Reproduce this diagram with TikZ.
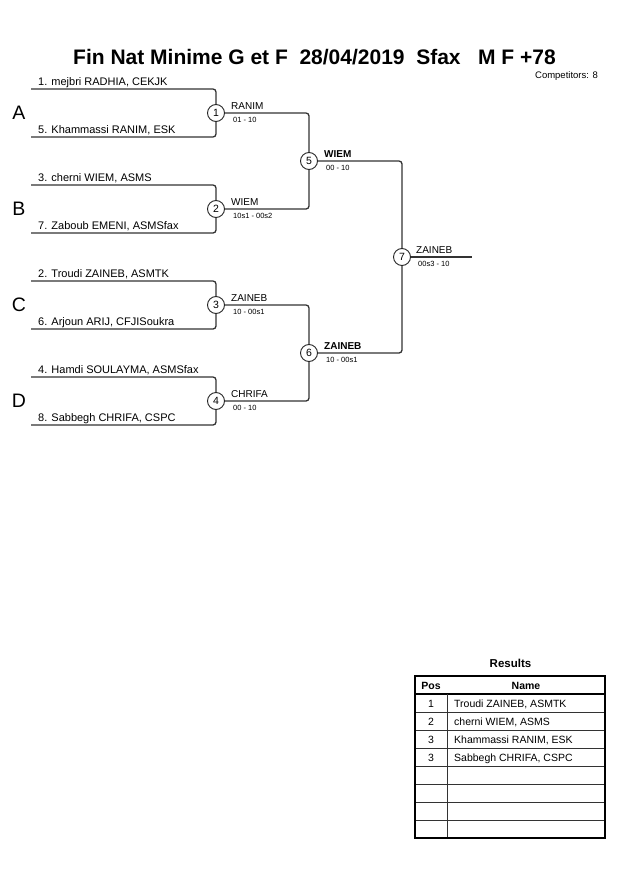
\documentclass[tikz,border=0pt]{standalone}
\usepackage{fontspec}
\setmainfont{Liberation Sans}
\begin{document}
\begin{tikzpicture}[x=1pt,y=-1pt,
  br/.style={line width=1.3pt,draw=black!80,rounded corners=3pt},
  mc/.style={circle,draw=black!85,line width=0.9pt,fill=white,minimum size=17pt,inner sep=0pt,font=\fontsize{10.5}{12}\selectfont},
  nm/.style={anchor=base west,inner sep=0pt,font=\fontsize{11}{13}\selectfont},
  wn/.style={anchor=base west,inner sep=0pt,font=\fontsize{10}{12}\selectfont},
  sc/.style={anchor=base west,inner sep=0pt,font=\fontsize{7.5}{9}\selectfont},
  grp/.style={anchor=center,inner sep=0pt,font=\fontsize{19.5}{22}\selectfont},
  cell/.style={inner sep=0pt,font=\fontsize{10.5}{12}\selectfont},
  hcell/.style={inner sep=0pt,anchor=base,font=\bfseries\fontsize{10.5}{12}\selectfont}]
\useasboundingbox (0,0) rectangle (630,891);
% title
\node[anchor=base,inner sep=0pt,font=\bfseries\fontsize{21}{24}\selectfont] (title) at (314.5,64) {Fin Nat Minime G et F\ \ 28/04/2019\ \ Sfax\ \ \ M F +78};
\node[anchor=base east,inner sep=0pt,font=\fontsize{9.5}{11}\selectfont] (comp) at (598,78.5) {Competitors: 8};
% match circles
\node[mc] (m1) at (216,113) {1};
\node[mc] (m2) at (216,209) {2};
\node[mc] (m3) at (216,305) {3};
\node[mc] (m4) at (216,401) {4};
\node[mc] (m5) at (309,161) {5};
\node[mc] (m6) at (309,353) {6};
\node[mc] (m7) at (402,257) {7};
% line start coordinates
\coordinate (s1) at (31,89);  \coordinate (s5) at (31,137);
\coordinate (s3) at (31,185); \coordinate (s7) at (31,233);
\coordinate (s2) at (31,281); \coordinate (s6) at (31,329);
\coordinate (s4) at (31,377); \coordinate (s8) at (31,425);
\coordinate (fin) at (472,257);
% first round brackets
\draw[br] (s1) -| (m1.north); \draw[br] (s5) -| (m1.south);
\draw[br] (s3) -| (m2.north); \draw[br] (s7) -| (m2.south);
\draw[br] (s2) -| (m3.north); \draw[br] (s6) -| (m3.south);
\draw[br] (s4) -| (m4.north); \draw[br] (s8) -| (m4.south);
% second round
\draw[br] (m1.east) -| (m5.north); \draw[br] (m2.east) -| (m5.south);
\draw[br] (m3.east) -| (m6.north); \draw[br] (m4.east) -| (m6.south);
% final
\draw[br] (m5.east) -| (m7.north); \draw[br] (m6.east) -| (m7.south);
\draw[br] (m7.east) -- (fin);
% competitor names
\node[nm] (n1) at (38,85.5) {1. mejbri RADHIA, CEKJK};
\node[nm] (n5) at (38,133.5) {5. Khammassi RANIM, ESK};
\node[nm] (n3) at (38,181.5) {3. cherni WIEM, ASMS};
\node[nm] (n7) at (38,229.5) {7. Zaboub EMENI, ASMSfax};
\node[nm] (n2) at (38,277.5) {2. Troudi ZAINEB, ASMTK};
\node[nm] (n6) at (38,325.5) {6. Arjoun ARIJ, CFJISoukra};
\node[nm] (n4) at (38,373.5) {4. Hamdi SOULAYMA, ASMSfax};
\node[nm] (n8) at (38,421.5) {8. Sabbegh CHRIFA, CSPC};
% group letters
\node[grp] (gA) at (19,113) {A};
\node[grp] (gB) at (19,209) {B};
\node[grp] (gC) at (19,305) {C};
\node[grp] (gD) at (19,401) {D};
% winners and scores
\node[wn] (w1) at (231,109) {RANIM};   \node[sc] (r1) at (233,122) {01 - 10};
\node[wn] (w2) at (231,205) {WIEM};    \node[sc] (r2) at (233,218) {10s1 - 00s2};
\node[wn] (w3) at (231,301) {ZAINEB};  \node[sc] (r3) at (233,314) {10 - 00s1};
\node[wn] (w4) at (231,397) {CHRIFA};  \node[sc] (r4) at (233,410) {00 - 10};
\node[wn,font=\bfseries\fontsize{10}{12}\selectfont] (w5) at (324,157) {WIEM};   \node[sc] (r5) at (326,170) {00 - 10};
\node[wn,font=\bfseries\fontsize{10}{12}\selectfont] (w6) at (324,349) {ZAINEB}; \node[sc] (r6) at (326,362) {10 - 00s1};
\node[wn] (w7) at (416,253) {ZAINEB};  \node[sc] (r7) at (418,266) {00s3 - 10};
% results table
\node[anchor=base,inner sep=0pt,font=\bfseries\fontsize{11.5}{13}\selectfont] (res) at (510.5,667) {Results};
\foreach \yy in {712,730,748,766,784,802,820} \draw[line width=1pt,black!80] (415,\yy) -- (605,\yy);
\draw[line width=1.6pt] (415,694) -- (605,694);
\draw[line width=1pt,black!80] (447,694) -- (447,838);
\draw[line width=2pt] (415,676) rectangle (605,838);
\node[hcell] (hp) at (431,689.5) {Pos};
\node[hcell] (hn) at (526,689.5) {Name};
\node[cell,anchor=base] (p1) at (431,707.5) {1};
\node[cell,anchor=base] (p2) at (431,725.5) {2};
\node[cell,anchor=base] (p3) at (431,743.5) {3};
\node[cell,anchor=base] (p4) at (431,761.5) {3};
\node[cell,anchor=base west] (q1) at (454,707.5) {Troudi ZAINEB, ASMTK};
\node[cell,anchor=base west] (q2) at (454,725.5) {cherni WIEM, ASMS};
\node[cell,anchor=base west] (q3) at (454,743.5) {Khammassi RANIM, ESK};
\node[cell,anchor=base west] (q4) at (454,761.5) {Sabbegh CHRIFA, CSPC};
\end{tikzpicture}
\end{document}
